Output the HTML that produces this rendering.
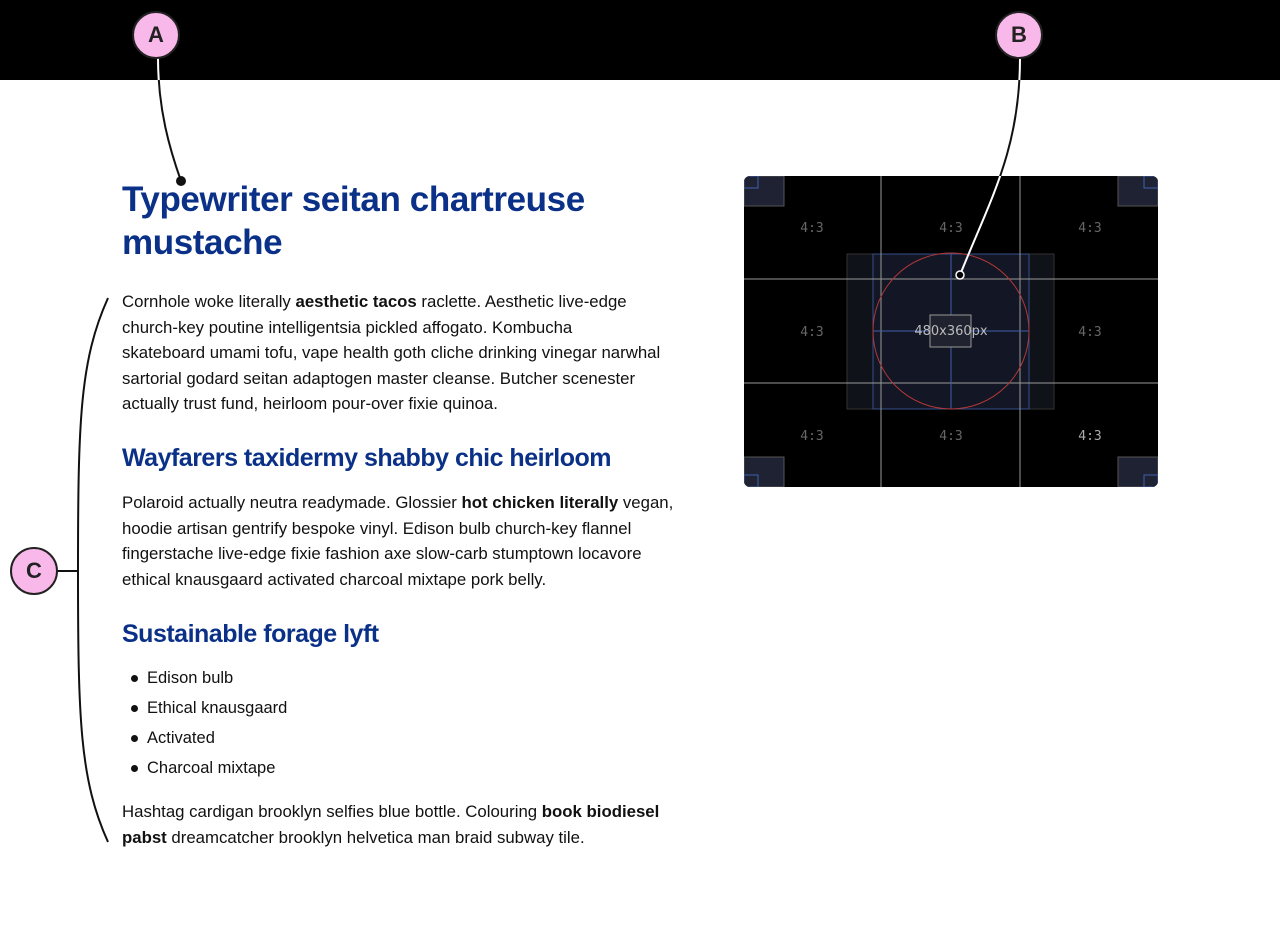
<!DOCTYPE html>
<html><head><style>
body{margin:0;width:1280px;height:944px;background:#fff;position:relative;overflow:hidden;font-family:"Liberation Sans",sans-serif;color:#111}
.top{position:absolute;left:0;top:0;width:1280px;height:80px;background:#000}
.t{position:absolute;left:122px;width:600px;white-space:nowrap}
h1,h2{margin:0;color:#0a3087;font-weight:bold}
h1{font-size:35px;line-height:43px;letter-spacing:-0.4px}
h2{font-size:25px;line-height:30px;letter-spacing:-0.5px}
p{margin:0;font-size:16.8px;line-height:25.5px;letter-spacing:0px}
.li{position:absolute;left:147px;font-size:16.5px;letter-spacing:0}
.li:before{content:"";position:absolute;left:-16px;top:6px;width:7px;height:7px;border-radius:50%;background:#111}
.badge{position:absolute;width:48px;height:48px;border-radius:50%;background:#f9b8ea;border:2px solid #222;box-sizing:border-box;text-align:center;line-height:44px;font-size:22px;font-weight:bold;color:#222}
</style></head><body>
<div class="top"></div>
<div class="t" style="top:178px"><h1>Typewriter seitan chartreuse<br>mustache</h1></div>
<div class="t" style="top:289px"><p>Cornhole woke literally <b>aesthetic tacos</b> raclette. Aesthetic live-edge<br>church-key poutine intelligentsia pickled affogato. Kombucha<br>skateboard umami tofu, vape health goth cliche drinking vinegar narwhal<br>sartorial godard seitan adaptogen master cleanse. Butcher scenester<br>actually trust fund, heirloom pour-over fixie quinoa.</p></div>
<div class="t" style="top:443px"><h2>Wayfarers taxidermy shabby chic heirloom</h2></div>
<div class="t" style="top:490px"><p>Polaroid actually neutra readymade. Glossier <b>hot chicken literally</b> vegan,<br>hoodie artisan gentrify bespoke vinyl. Edison bulb church-key flannel<br>fingerstache live-edge fixie fashion axe slow-carb stumptown locavore<br>ethical knausgaard activated charcoal mixtape pork belly.</p></div>
<div class="t" style="top:619px"><h2>Sustainable forage lyft</h2></div>
<div class="li" style="top:669px">Edison bulb</div>
<div class="li" style="top:699px">Ethical knausgaard</div>
<div class="li" style="top:729px">Activated</div>
<div class="li" style="top:759px">Charcoal mixtape</div>
<div class="t" style="top:799px"><p>Hashtag cardigan brooklyn selfies blue bottle. Colouring <b>book biodiesel</b><br><b>pabst</b> dreamcatcher brooklyn helvetica man braid subway tile.</p></div>

<svg style="position:absolute;left:0;top:0" width="1280" height="944">
<defs>
<clipPath id="img"><rect x="744" y="176" width="414" height="311" rx="6"/></clipPath>
<clipPath id="topc"><rect x="0" y="0" width="1280" height="80"/></clipPath>
</defs>
<g clip-path="url(#img)">
<rect x="744" y="176" width="414" height="311" fill="#000"/>
<rect x="847" y="254" width="207" height="155" fill="#10121a" stroke="#333" />
<rect x="873" y="254" width="156" height="155" fill="#131624" stroke="#35508a"/>
<line x1="744" y1="279" x2="1158" y2="279" stroke="#999"/>
<line x1="744" y1="383" x2="1158" y2="383" stroke="#999"/>
<line x1="881" y1="176" x2="881" y2="487" stroke="#999"/>
<line x1="1020" y1="176" x2="1020" y2="487" stroke="#999"/>
<line x1="951" y1="254" x2="951" y2="409" stroke="#4060b0"/>
<line x1="873" y1="331" x2="1029" y2="331" stroke="#4060b0"/>
<circle cx="951" cy="331" r="78" fill="none" stroke="#b03838"/>
<rect x="930" y="315" width="41" height="32" fill="#20232f" stroke="#999"/>
<text x="951" y="335" fill="#bbb" font-size="13" text-anchor="middle" font-family="DejaVu Sans">480x360px</text>
<g fill="#1e2232" stroke="#555"><rect x="744" y="176" width="40" height="30"/><rect x="1118" y="176" width="40" height="30"/><rect x="744" y="457" width="40" height="30"/><rect x="1118" y="457" width="40" height="30"/></g>
<g fill="none" stroke="#4060b0"><rect x="744" y="176" width="14" height="12"/><rect x="1144" y="176" width="14" height="12"/><rect x="744" y="475" width="14" height="12"/><rect x="1144" y="475" width="14" height="12"/></g>
<g font-family="DejaVu Sans Mono" font-size="13" fill="#666" text-anchor="middle">
<text x="812" y="232">4:3</text><text x="951" y="232">4:3</text><text x="1090" y="232">4:3</text>
<text x="812" y="336">4:3</text><text x="1090" y="336">4:3</text>
<text x="812" y="440">4:3</text><text x="951" y="440">4:3</text><text x="1090" y="440" fill="#aaa">4:3</text>
</g>
</g>
<path d="M158 58 C158 110 170 150 181 181" stroke="#111" stroke-width="2" fill="none"/>
<path d="M158 58 C158 110 170 150 181 181" stroke="#fff" stroke-width="2" fill="none" clip-path="url(#topc)"/>
<circle cx="181" cy="181" r="5" fill="#111"/>
<path d="M1020 58 C1020 150 990 200 960 275" stroke="#111" stroke-width="2" fill="none"/>
<path d="M1020 58 C1020 150 990 200 960 275" stroke="#fff" stroke-width="2" fill="none" clip-path="url(#topc)"/>
<path d="M1020 58 C1020 150 990 200 960 275" stroke="#fff" stroke-width="2" fill="none" clip-path="url(#img)"/>
<circle cx="960" cy="275" r="4" fill="#000" stroke="#fff" stroke-width="1.5"/>
<path d="M108 298 C80 360 78 420 78 571 C78 720 80 780 108 842" stroke="#111" stroke-width="2" fill="none"/>
<line x1="57" y1="571" x2="78" y2="571" stroke="#111" stroke-width="2"/>
</svg>
<div class="badge" style="left:132px;top:11px">A</div>
<div class="badge" style="left:995px;top:11px">B</div>
<div class="badge" style="left:10px;top:547px">C</div>
</body></html>
